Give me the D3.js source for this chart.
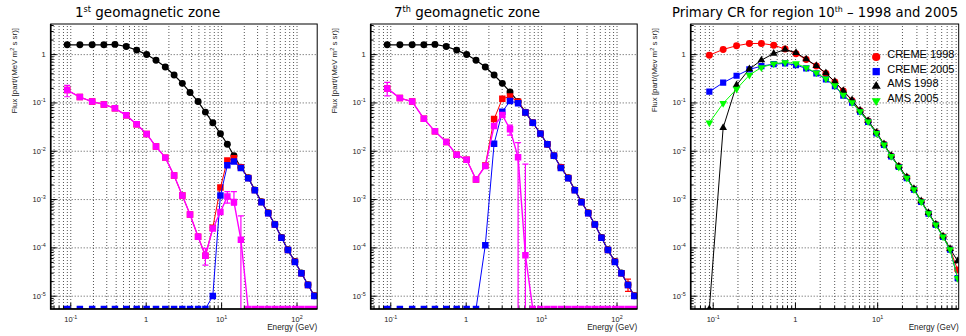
<!DOCTYPE html>
<html>
<head>
<meta charset="utf-8">
<script src="https://cdn.jsdelivr.net/npm/d3@7"></script>
<style>
  body { margin: 0; background: #fff; }
  svg { display: block; font-family: "Liberation Sans", Arial, sans-serif; }
</style>
</head>
<body>
<svg id="chart" width="966" height="336"></svg>
<script>
// bin centres in GeV, shared by the three panels
const energy = [0.091, 0.134, 0.195, 0.279, 0.391, 0.552, 0.759, 1.03, 1.37, 1.82, 2.38, 3.06, 3.87, 4.95, 6.19,
  7.76, 9.79, 12.1, 14.8, 18.3, 22.9, 28.0, 34.3, 42.1, 51.6, 63.2, 76.9, 95.2, 116, 142, 172];

// 1st geomagnetic zone
const zone1Black = [1.56, 1.56, 1.56, 1.56, 1.59, 1.44, 1.21, 0.98, 0.75, 0.54, 0.37, 0.248, 0.161, 0.104, 0.063,
  0.038, 0.0226, 0.0136, 0.0079, 4.55e-3, 2.75e-3, 1.55e-3, 8.8e-4, 5.2e-4, 3.0e-4, 1.6e-4, 8.9e-5, 5.1e-5, 2.95e-5, 1.68e-5, 1.0e-5];
const zone1Red = [0.18, 0.129, 0.104, 0.091, 0.0755, 0.054, 0.0352, 0.0222, 0.0122, 0.0072, 3.06e-3, 1.18e-3, 4.8e-4, 1.66e-4, 6.7e-5,
  2.56e-4, 1.73e-3, 6.3e-3, 7.0e-3, 4.55e-3, 2.72e-3, 1.53e-3, 8.65e-4, 5.12e-4, 2.98e-4, 1.59e-4, 8.85e-5, 5.02e-5, 2.92e-5, 1.67e-5, 9.95e-6];
const zone1Blue = [0, 0, 0, 0, 0, 0, 0, 0, 0, 0, 0, 0, 0, 0, 0,
  9.9e-6, 1.18e-3, 5.0e-3, 5.96e-3, 4.4e-3, 2.7e-3, 1.52e-3, 8.6e-4, 5.1e-4, 2.97e-4, 1.58e-4, 8.8e-5, 5.0e-5, 2.9e-5, 1.66e-5, 9.9e-6];
const zone1Magenta = [0.18, 0.129, 0.104, 0.091, 0.0755, 0.054, 0.0352, 0.0222, 0.0122, 0.0072, 3.06e-3, 1.18e-3, 4.8e-4, 1.66e-4, 6.7e-5,
  2.46e-4, 5.4e-4, 1.13e-3, 8.7e-4, 1.44e-4, 0, 0, 0, 0, 0, 0, 0, 0, 0, 0, 0];
const zone1MagentaErr = [[0, 0.131, 0.226], [14, 4.3e-5, 9.5e-5], [17, 8.2e-4, 1.43e-3], [18, 7.5e-4, 1.43e-3], [19, 0, 4.5e-4]];

// 7th geomagnetic zone
const zone7Black = [1.56, 1.56, 1.56, 1.56, 1.59, 1.44, 1.21, 0.98, 0.75, 0.54, 0.37, 0.248, 0.165, 0.104, 0.063,
  0.038, 0.0226, 0.0136, 0.0079, 4.55e-3, 2.75e-3, 1.55e-3, 8.8e-4, 5.2e-4, 3.0e-4, 1.6e-4, 8.9e-5, 5.1e-5, 2.95e-5, 1.68e-5, 1.0e-5];
const zone7Red = [0.195, 0.123, 0.104, 0.046, 0.0252, 0.0152, 8.3e-3, 6.5e-3, 2.54e-3, 4.96e-3, 0.0454, 0.119, 0.133, 0.103, 0.062,
  0.038, 0.0226, 0.0136, 0.0079, 4.55e-3, 2.72e-3, 1.53e-3, 8.65e-4, 5.12e-4, 2.98e-4, 1.59e-4, 8.85e-5, 5.02e-5, 2.92e-5, 1.67e-5, 9.95e-6];
const zone7Blue = [0, 0, 0, 0, 0, 0, 0, 0, 0, 1.11e-4, 0.014, 0.064, 0.107, 0.096, 0.062,
  0.038, 0.0226, 0.0136, 0.0079, 4.4e-3, 2.7e-3, 1.52e-3, 8.6e-4, 5.1e-4, 2.97e-4, 1.58e-4, 8.8e-5, 5.0e-5, 2.9e-5, 1.66e-5, 9.9e-6];
const zone7Magenta = [0.195, 0.123, 0.104, 0.046, 0.0252, 0.0152, 8.3e-3, 6.5e-3, 2.54e-3, 4.85e-3, 0.0325, 0.055, 0.0278, 7.3e-3, 6.9e-5,
  0, 0, 0, 0, 0, 0, 0, 0, 0, 0, 0, 0, 0, 0, 0, 0];
const zone7MagentaErr = [[0, 0.136, 0.26], [10, 0.029, 0.036], [11, 0.05, 0.061], [12, 0.021, 0.034], [13, 0, 0.0147], [14, 0, 5.3e-3]];
const zone7RedErr = [[29, 1.23e-5, 2.2e-5]];

// primary CR, region 10 (first 28 bins)
const creme1998 = [0.95, 1.25, 1.49, 1.66, 1.66, 1.53, 1.27, 1.02, 0.776, 0.565, 0.399, 0.264, 0.172, 0.109, 0.0675,
  0.0413, 0.0237, 0.0136, 0.00781, 0.0047, 0.00279, 0.0016, 8.9e-4, 5.1e-4, 2.98e-4, 1.68e-4, 9.2e-5, 3.4e-5];
const creme2005 = [0.167, 0.256, 0.357, 0.482, 0.565, 0.621, 0.641, 0.593, 0.506, 0.399, 0.30, 0.218, 0.138, 0.0987, 0.064,
  0.0395, 0.0228, 0.0132, 0.0076, 0.0046, 0.00272, 0.00157, 8.7e-4, 5.0e-4, 2.92e-4, 1.64e-4, 9.0e-5, 2.3e-5];
const ams1998 = [3e-6, 0.030, 0.229, 0.490, 0.751, 1.03, 1.25, 1.07, 0.788, 0.574, 0.405, 0.268, 0.175, 0.112, 0.069,
  0.042, 0.024, 0.0138, 0.0080, 0.0048, 0.00285, 0.00163, 9.1e-4, 5.2e-4, 3.0e-4, 1.70e-4, 9.4e-5, 5.2e-5];
const ams2005 = [0.0381, 0.0957, 0.189, 0.368, 0.530, 0.631, 0.673, 0.641, 0.52, 0.411, 0.309, 0.225, 0.142, 0.100, 0.065,
  0.040, 0.023, 0.0133, 0.0077, 0.0046, 0.00274, 0.00158, 8.8e-4, 5.0e-4, 2.94e-4, 1.65e-4, 9.0e-5, 2.3e-5];

const legendNames = ["CREME 1998", "CREME 2005", "AMS 1998", "AMS 2005"];

const svg = d3.select("#chart");
const frameTop = 24, frameH = 285;
const yDomain = [5.3e-6, 4.2];

function logTicks(lo, hi) {
  const out = [];
  for (let e = Math.floor(Math.log10(lo)); e <= Math.ceil(Math.log10(hi)); e++) {
    for (let k = 1; k <= 9; k++) {
      const v = k * Math.pow(10, e);
      if (v >= lo && v <= hi) out.push(v);
    }
  }
  return out;
}
const isDecade = v => Math.abs(Math.log10(v) - Math.round(Math.log10(v))) < 1e-9;

// "1" or "10" with superscript exponent
function powText(t, v) {
  const e = Math.round(Math.log10(v));
  t.text(null);
  if (e === 0) { t.text("1"); return; }
  t.append("tspan").text("10");
  t.append("tspan").attr("font-size", "0.72em").attr("dy", "-0.55em").text(e);
}

function marker(kind, size) {
  if (kind === "circle") return d3.symbol(d3.symbolCircle, size)();
  if (kind === "square") return d3.symbol(d3.symbolSquare, size)();
  return d3.symbol(d3.symbolTriangle, size)();
}

function drawPanel(p) {
  const w = p.width, h = frameH;
  const g = svg.append("g").attr("transform", `translate(${p.left},${frameTop})`);
  const x = d3.scaleLog().domain(p.xDomain).range([0, w]);
  const y = d3.scaleLog().domain(yDomain).range([h, 0]).clamp(true);
  const xAll = logTicks(p.xDomain[0], p.xDomain[1]);
  const yAll = logTicks(yDomain[0], yDomain[1]);

  // dotted grid
  g.append("g").attr("class", "grid").attr("transform", `translate(0,${h})`)
    .call(d3.axisBottom(x).tickValues(xAll).tickSize(-h).tickFormat(""));
  g.append("g").attr("class", "grid")
    .call(d3.axisLeft(y).tickValues(yAll.filter(isDecade)).tickSize(-w).tickFormat(""));
  g.selectAll(".grid .domain").remove();
  g.selectAll(".grid line").attr("stroke", "#555").attr("stroke-dasharray", "1,2");

  // ticks inside the frame
  g.append("g").attr("class", "ax").attr("transform", `translate(0,${h})`)
    .call(d3.axisBottom(x).tickValues(xAll.filter(v => !isDecade(v))).tickSize(-3).tickFormat(""));
  g.append("g").attr("class", "ax lab").attr("transform", `translate(0,${h})`)
    .call(d3.axisBottom(x).tickValues(xAll.filter(isDecade)).tickSize(-6).tickPadding(8).tickFormat(""));
  g.append("g").attr("class", "ax")
    .call(d3.axisLeft(y).tickValues(yAll.filter(v => !isDecade(v))).tickSize(-3).tickFormat(""));
  g.append("g").attr("class", "ax lab")
    .call(d3.axisLeft(y).tickValues(yAll.filter(isDecade)).tickSize(-6).tickPadding(5).tickFormat(""));
  g.selectAll(".ax .domain").remove();
  g.selectAll(".ax line").attr("stroke", "#000");
  g.selectAll(".lab").attr("font-family", "'Liberation Sans', Arial, sans-serif").attr("font-size", 7.5);
  g.selectAll(".lab .tick text").attr("fill", "#222").each(function (d) { powText(d3.select(this), d); });

  // data
  g.append("clipPath").attr("id", "clip" + p.id).append("rect").attr("width", w).attr("height", h);
  const plot = g.append("g").attr("clip-path", `url(#clip${p.id})`);
  const line = d3.line().x(d => x(d[0])).y(d => y(d[1]));

  p.series.forEach(s => {
    const pts = s.values.map((v, i) => [energy[i], v]);
    plot.append("path").datum(pts)
      .attr("fill", "none").attr("stroke", s.color).attr("stroke-width", s.lw).attr("d", line);
    (s.err || []).forEach(([i, lo, hi]) => {
      const ex = x(energy[i]);
      plot.append("line").attr("x1", ex).attr("x2", ex).attr("y1", y(lo)).attr("y2", y(hi))
        .attr("stroke", s.color).attr("stroke-width", 1.2);
      [lo, hi].filter(v => v > yDomain[0]).forEach(v => {
        plot.append("line").attr("x1", ex - 3).attr("x2", ex + 3).attr("y1", y(v)).attr("y2", y(v))
          .attr("stroke", s.color).attr("stroke-width", 1.2);
      });
    });
    plot.selectAll(null).data(pts).join("path")
      .attr("transform", d => `translate(${x(d[0])},${y(d[1])})` + (s.flip ? " rotate(180)" : ""))
      .attr("d", marker(s.kind, s.size))
      .attr("fill", s.color);
  });

  // frame
  g.append("rect").attr("width", w).attr("height", h)
    .attr("fill", "none").attr("stroke", "#000").attr("stroke-width", 1);
  g.append("path").attr("d", `M0,0V${h}H${w}`).attr("fill", "none").attr("stroke", "#000").attr("stroke-width", 1.6);

  // axis titles
  g.append("text").attr("x", w).attr("y", 306).attr("text-anchor", "end")
    .attr("font-size", 8.2).attr("fill", "#222").text("Energy (GeV)");
  const yt = g.append("text").attr("transform", `translate(${-34},4) rotate(-90)`)
    .attr("text-anchor", "end").attr("font-size", 7.9).attr("fill", "#222");
  yt.append("tspan").text(p.yTitle + " m");
  yt.append("tspan").attr("font-size", "0.7em").attr("dy", "-0.5em").text("2");
  yt.append("tspan").attr("dy", "0.35em").text(" s sr)]");

  // panel title
  const tt = svg.append("text").attr("x", p.titleX).attr("y", 17)
    .attr("font-family", "'DejaVu Sans', sans-serif").attr("font-size", p.titleSize).attr("fill", "#000");
  tt.append("tspan").text(p.title[0]);
  tt.append("tspan").attr("font-size", "0.6em").attr("dy", "-0.65em").text(p.title[1]);
  tt.append("tspan").attr("dy", "0.39em").text(p.title[2]);

  if (p.legend) {
    const lg = g.append("g").attr("transform", `translate(${p.legend.x},${p.legend.y})`);
    p.series.forEach((s, i) => {
      const row = lg.append("g").attr("transform", `translate(0,${i * 14.6})`);
      row.append("path").attr("transform", "translate(0,3)" + (s.flip ? " rotate(180)" : ""))
        .attr("d", marker(s.kind, s.size * 1.4)).attr("fill", s.color);
      row.append("text").attr("x", 11).attr("y", 4).attr("font-size", 11).attr("fill", "#000").text(legendNames[i]);
    });
  }
}

drawPanel({
  id: 1, left: 50.7, width: 266.5, xDomain: [0.055, 188], titleX: 75, titleSize: 13.5,
  title: ["1", "st", " geomagnetic zone"], yTitle: "Flux [part/(MeV",
  series: [
    { values: zone1Black, color: "#000", lw: 1.2, kind: "circle", size: 38 },
    { values: zone1Red, color: "#ff0000", lw: 1, kind: "square", size: 42 },
    { values: zone1Blue, color: "#0000ff", lw: 1, kind: "square", size: 42 },
    { values: zone1Magenta, color: "#ff00ff", lw: 1.4, kind: "square", size: 42, err: zone1MagentaErr }
  ]
});
drawPanel({
  id: 2, left: 370.7, width: 266.5, xDomain: [0.055, 188], titleX: 394, titleSize: 13.5,
  title: ["7", "th", " geomagnetic zone"], yTitle: "Flux [part/(MeV",
  series: [
    { values: zone7Black, color: "#000", lw: 1.2, kind: "circle", size: 38 },
    { values: zone7Red, color: "#ff0000", lw: 1, kind: "square", size: 42, err: zone7RedErr },
    { values: zone7Blue, color: "#0000ff", lw: 1, kind: "square", size: 42 },
    { values: zone7Magenta, color: "#ff00ff", lw: 1.4, kind: "square", size: 42, err: zone7MagentaErr }
  ]
});
drawPanel({
  id: 3, left: 690.7, width: 268, xDomain: [0.054, 98], titleX: 672, titleSize: 13.2,
  title: ["Primary CR for region 10", "th", " \u2013 1998 and 2005"], yTitle: "Flux  [part/(Mev",
  legend: { x: 185.5, y: 30 },
  series: [
    { values: creme1998, color: "#ff0000", lw: 1, kind: "circle", size: 38 },
    { values: creme2005, color: "#0000ff", lw: 1, kind: "square", size: 38 },
    { values: ams1998, color: "#000", lw: 1, kind: "triangle", size: 26 },
    { values: ams2005, color: "#00ff00", lw: 1, kind: "triangle", size: 26, flip: true }
  ]
});
</script>
</body>
</html>
